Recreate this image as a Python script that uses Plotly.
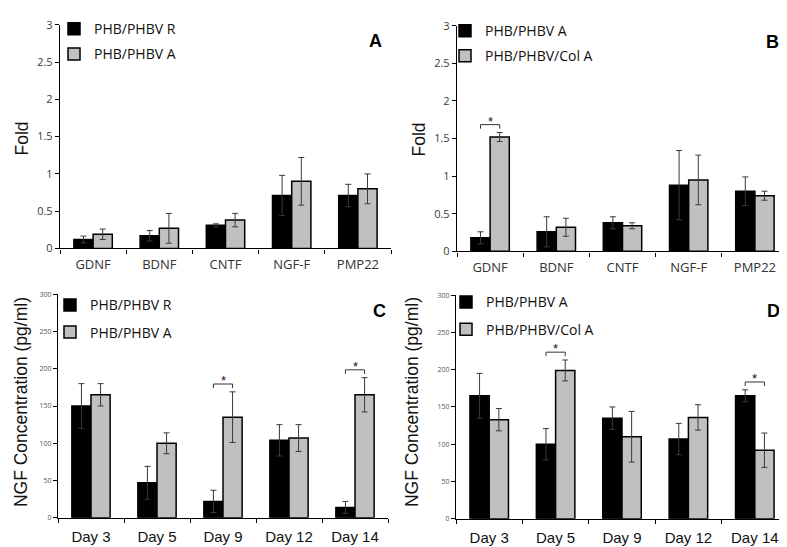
import plotly.graph_objects as go

W, H = 787, 547

genes = ["GDNF", "BDNF", "CNTF", "NGF-F", "PMP22"]
days = ["Day 3", "Day 5", "Day 9", "Day 12", "Day 14"]

# Panel A
a_R = [0.12, 0.17, 0.31, 0.71, 0.71]
a_R_err = [0.045, 0.07, 0.02, 0.27, 0.15]
a_A = [0.19, 0.27, 0.38, 0.90, 0.80]
a_A_err = [0.07, 0.20, 0.09, 0.32, 0.20]
# Panel B
b_A = [0.18, 0.26, 0.38, 0.88, 0.80]
b_A_err = [0.08, 0.20, 0.08, 0.46, 0.19]
b_C = [1.52, 0.32, 0.34, 0.95, 0.74]
b_C_err = [0.06, 0.12, 0.04, 0.33, 0.06]
# Panel C
c_R = [150, 47, 22, 104, 14]
c_R_err = [30, 22, 15, 21, 8]
c_A = [165, 100, 135, 107, 165]
c_A_err = [15, 14, 34, 18, 23]
# Panel D
d_A = [165, 100, 135, 107, 165]
d_A_err = [30, 21, 15, 21, 8]
d_C = [133, 199, 110, 136, 92]
d_C_err = [15, 14, 34, 17, 23]

b_sig = ["GDNF"]
c_sig = ["Day 9", "Day 14"]
d_sig = ["Day 5", "Day 14"]

BLACK = "#000000"
GRAY = "#c0c0c0"
ERRC = "#3a3a3a"
BARGAP = 0.42
CAL = "Open Sans, Lato, sans-serif"
ARIAL = "Liberation Sans, Arial, sans-serif"


def px(x):
    return x / W


def py(y):
    return 1 - y / H


panels = [
    dict(ax="", cats=genes, n1="PHB/PHBV R", v1=a_R, e1=a_R_err, n2="PHB/PHBV A", v2=a_A, e2=a_A_err,
         sig=[], yr=3, dt=0.5, box=(52, 383, 9, 239), leg="legend", letter="A",
         lx=46, ly=-3, gap=4, lfx=367, lfy=26, title="Fold", tx=14, ty=126, bottom=False),
    dict(ax="2", cats=genes, n1="PHB/PHBV A", v1=b_A, e1=b_A_err, n2="PHB/PHBV/Col A", v2=b_C, e2=b_C_err,
         sig=b_sig, yr=3, dt=0.5, box=(449, 780, 10, 242), leg="legend2", letter="B",
         lx=437, ly=-1, gap=4, lfx=764, lfy=27, title="Fold", tx=411, ty=127, bottom=False),
    dict(ax="3", cats=days, n1="PHB/PHBV R", v1=c_R, e1=c_R_err, n2="PHB/PHBV A", v2=c_A, e2=c_A_err,
         sig=c_sig, yr=300, dt=50, box=(50, 380, 286, 516), leg="legend3", letter="C",
         lx=42, ly=281, gap=6, lfx=371, lfy=303, title="NGF Concentration (pg/ml)", tx=13, ty=397, bottom=True),
    dict(ax="4", cats=days, n1="PHB/PHBV A", v1=d_A, e1=d_A_err, n2="PHB/PHBV/Col A", v2=d_C, e2=d_C_err,
         sig=d_sig, yr=300, dt=50, box=(448, 780, 287, 517), leg="legend4", letter="D",
         lx=438, ly=278, gap=6, lfx=765, lfy=303, title="NGF Concentration (pg/ml)", tx=404, ty=397, bottom=True),
]

fig = go.Figure()
shapes = []
annotations = []
layout = {}

for p in panels:
    xa = "x" + p["ax"]
    ya = "y" + p["ax"]
    for name, vals, errs, col in ((p["n1"], p["v1"], p["e1"], BLACK), (p["n2"], p["v2"], p["e2"], GRAY)):
        fig.add_trace(go.Bar(
            x=p["cats"], y=vals, name=name, xaxis=xa, yaxis=ya,
            marker=dict(color=col, line=dict(color="#000000", width=1.5)),
            error_y=dict(type="data", array=errs, color=ERRC, thickness=1, width=3),
            legend=p["leg"], legendgroup=p["leg"] + name,
        ))
    x0, x1, y0, y1 = p["box"]
    small = p["bottom"]
    layout["xaxis" + p["ax"]] = dict(
        domain=[px(x0), px(x1)], anchor=ya, type="category", range=[-0.5, 4.5],
        showline=True, linecolor="#000000", linewidth=1.3, ticks="outside", ticklen=4,
        tickcolor="#000000", tickwidth=1.2, tickson="boundaries", showgrid=False,
        tickfont=dict(family=ARIAL if small else CAL, size=15 if small else 13,
                      color="#111111" if small else "#333333"),
        ticklabelstandoff=5 if small else 4, fixedrange=True,
    )
    layout["yaxis" + p["ax"]] = dict(
        domain=[py(y1), py(y0)], anchor=xa, range=[0, p["yr"]], dtick=p["dt"],
        showline=True, linecolor="#000000", linewidth=1.3, ticks="outside", ticklen=4,
        tickcolor="#000000", tickwidth=1.2, showgrid=False, zeroline=False,
        tickfont=dict(family=CAL, size=7 if small else 11, color="#555555" if small else "#3a3a3a"),
        fixedrange=True,
    )
    layout[p["leg"]] = dict(
        x=px(p["lx"]), y=py(p["ly"]), xanchor="left", yanchor="top",
        bgcolor="rgba(0,0,0,0)", borderwidth=0, traceorder="grouped", tracegroupgap=p["gap"],
        font=dict(family=CAL, size=14, color="#111111"),
    )
    off = (1 - BARGAP) / 4
    h = 0.018 * p["yr"]
    for c in p["sig"]:
        i = p["cats"].index(c)
        top = max(p["v1"][i] + p["e1"][i], p["v2"][i] + p["e2"][i]) + 0.035 * p["yr"]
        shapes.append(dict(
            type="path", xref=xa, yref=ya,
            path=f"M {i - off},{top - h} L {i - off},{top} L {i + off},{top} L {i + off},{top - h}",
            line=dict(color="#333333", width=1),
        ))
        annotations.append(dict(
            x=i, y=top, xref=xa, yref=ya, text="*", showarrow=False, yanchor="bottom",
            font=dict(family=ARIAL, size=13, color="#111111"), yshift=-6,
        ))
    annotations.append(dict(
        x=px(p["lfx"]), y=py(p["lfy"]), xref="paper", yref="paper", text="<b>" + p["letter"] + "</b>",
        showarrow=False, xanchor="center", yanchor="middle",
        font=dict(family=ARIAL, size=18, color="#000000"),
    ))
    annotations.append(dict(
        x=px(p["tx"]), y=py(p["ty"]), xref="paper", yref="paper", text=p["title"],
        showarrow=False, xanchor="center", yanchor="middle", textangle=-90,
        font=dict(family=ARIAL, size=17.5, color="#111111"),
    ))

fig.update_layout(
    width=W, height=H, autosize=False, margin=dict(l=0, r=0, t=0, b=0),
    paper_bgcolor="#ffffff", plot_bgcolor="#ffffff",
    barmode="group", bargap=BARGAP, bargroupgap=0,
    showlegend=True, shapes=shapes, annotations=annotations, **layout,
)

fig.write_html("out.html")
